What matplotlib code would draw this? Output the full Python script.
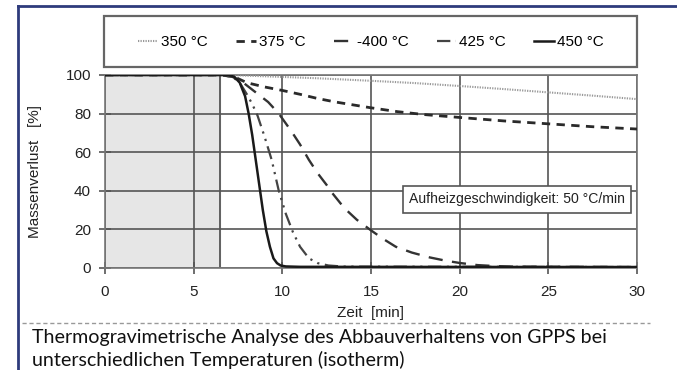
import matplotlib.pyplot as plt
from matplotlib.lines import Line2D
from matplotlib.patches import Rectangle

plt.rcParams['font.family'] = ['Liberation Sans', 'DejaVu Sans']

# Zeit [min] / Massenverlust [%]
t_350 = [0, 6.5, 7, 10, 12, 15, 17.5, 20, 22.5, 25, 27.5, 30]
m_350 = [100, 100, 100, 99, 98.3, 97, 95.8, 94.3, 92.7, 91, 89.3, 87.5]

t_375 = [0, 6.5, 6.8, 7.3, 8, 9, 10, 11, 12, 13, 14, 15, 16.5, 18, 20, 22.5, 25, 27.5, 30]
m_375 = [100, 100, 100, 99, 96, 93.8, 92, 90, 87.8, 86, 84.5, 83, 81, 79.5, 78, 76.2, 74.7, 73.2, 72]

t_400 = [0, 6.5, 7.2, 7.8, 8.5, 9.2, 9.8, 10.5, 11, 11.5, 12, 12.5, 12.8, 13.5, 14.2, 15,
         15.7, 16.4, 17.3, 18.3, 19.2, 20, 21, 22, 23, 30]
m_400 = [100, 100, 99, 96, 91, 86, 80, 71, 64, 56, 49, 43, 39, 31, 25, 19.5,
         15, 11, 8, 5.5, 3.8, 2.6, 1.5, 1, 0.7, 0.5]

t_425 = [0, 6.5, 7.2, 7.6, 8, 8.3, 8.6, 9, 9.4, 9.8, 10.2, 10.6, 11, 11.5, 12, 12.6, 13.5, 30]
m_425 = [100, 100, 99, 96, 90, 85, 79, 68, 56, 40, 28, 18.5, 11, 5, 2.5, 1.3, 0.7, 0.5]

t_450 = [0, 6.5, 7, 7.3, 7.6, 7.9, 8.1, 8.3, 8.5, 8.7, 8.9, 9.1, 9.3, 9.5, 9.7, 9.9, 10.2, 11, 30]
m_450 = [100, 100, 100, 99, 96, 89, 80, 69, 56, 43, 30, 19, 11, 5, 2.5, 1.3, 0.8, 0.6, 0.5]

labels = ['350 °C', '375 °C', '-400 °C', '425 °C', '450 °C']

fig = plt.figure(figsize=(6.77, 3.70), dpi=100)
ax = fig.add_axes([0.1551, 0.2757, 0.7858, 0.5216])

ax.axvspan(0, 6.5, color='#e6e6e6', zorder=0)
ax.axvline(6.5, color='#555555', lw=1.3, zorder=1)

styles = [
    dict(color='#999999', lw=1.5, ls=(0, (0.6, 0.6))),
    dict(color='#2a2a2a', lw=2.0, ls=(0, (3, 2.3))),
    dict(color='#333333', lw=1.7, ls=(0, (6, 4))),
    dict(color='#444444', lw=1.6, ls=(0, (6, 2.5, 1, 2.5, 1, 2.5))),
    dict(color='#1a1a1a', lw=1.8, ls='-'),
]
data = [(t_350, m_350), (t_375, m_375), (t_400, m_400), (t_425, m_425), (t_450, m_450)]
for (t, m), st in zip(data, styles):
    ax.plot(t, m, zorder=3, **st)

ax.set_xlim(0, 30)
ax.set_ylim(0, 100)
ax.set_xticks(range(0, 31, 5))
ax.set_yticks(range(0, 101, 20))
ax.grid(True, color='#555555', lw=1.2)
ax.set_axisbelow(True)
for s in ax.spines.values():
    s.set_color('#777777')
    s.set_linewidth(1.2)
ax.tick_params(direction='inout', length=8, width=1.2, color='#555555',
               labelsize=11, labelcolor='#222222')
ax.tick_params(axis='x', pad=8)
ax.tick_params(axis='y', pad=6)
ax.set_xlabel('Zeit  [min]', fontsize=11, color='#222222', labelpad=5)
ax.set_ylabel('Massenverlust   [%]', fontsize=11, color='#222222', labelpad=17)

ax.text(23.23, 35.5, 'Aufheizgeschwindigkeit: 50 °C/min', fontsize=10.1,
        ha='center', va='center', color='#222222', zorder=5,
        bbox=dict(boxstyle='square,pad=0.45', fc='white', ec='#555555', lw=1.2))

# legend with separate frame box
fig.add_artist(Rectangle((0.1536, 0.8189), 0.7873, 0.1378, transform=fig.transFigure,
                         fc='white', ec='#666666', lw=1.6))
handles = [Line2D([], [], **st) for st in styles]
fig.legend(handles, labels, ncol=5, loc='center', bbox_to_anchor=(0.548, 0.886),
           fontsize=11, handlelength=1.3, handletextpad=0.2, columnspacing=1.85,
           frameon=False)

# frame and caption
fig.add_artist(Line2D([0.027, 0.027], [0, 0.984], color='#2e3b7c', lw=2))
fig.add_artist(Line2D([0.026, 1], [0.984, 0.984], color='#2e3b7c', lw=2))
fig.add_artist(Line2D([0.033, 0.96], [0.127, 0.127], color='#999999', lw=1, ls=(0, (3, 2))))
fig.text(0.0473, 0.073, 'Thermogravimetrische Analyse des Abbauverhaltens von GPPS bei',
         fontsize=14.1, family=['Lato', 'DejaVu Sans'], va='baseline', ha='left',
         color='#111111')
fig.text(0.0473, 0.0108, 'unterschiedlichen Temperaturen (isotherm)',
         fontsize=14.1, family=['Lato', 'DejaVu Sans'], va='baseline', ha='left',
         color='#111111')

fig.savefig('out.png', dpi=100)
